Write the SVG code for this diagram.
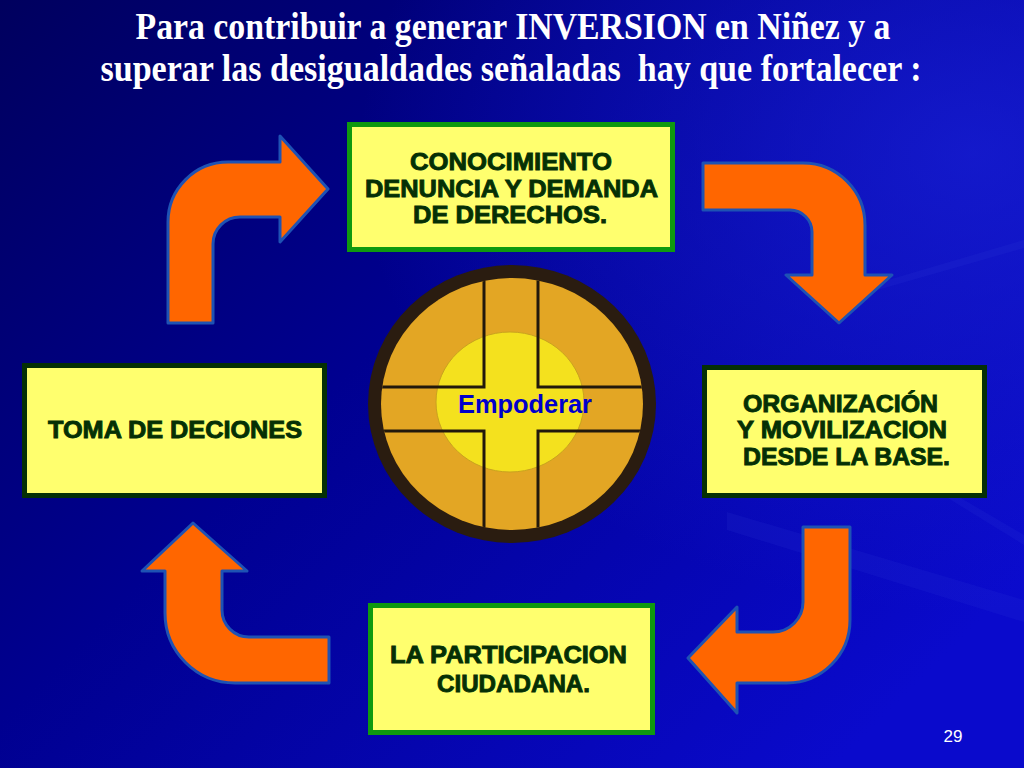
<svg xmlns="http://www.w3.org/2000/svg" width="1024" height="768" viewBox="0 0 1024 768">
<defs>
<linearGradient id="bg" x1="0" y1="0" x2="1" y2="0.75">
<stop offset="0" stop-color="#00005E"/>
<stop offset="0.45" stop-color="#000090"/>
<stop offset="1" stop-color="#0A0ACC"/>
</linearGradient>
<radialGradient id="glow" cx="0.95" cy="0.2" r="0.6">
<stop offset="0" stop-color="#1A22D8" stop-opacity="0.7"/>
<stop offset="1" stop-color="#1A22D8" stop-opacity="0"/>
</radialGradient>
<clipPath id="inner"><ellipse cx="512" cy="404" rx="131" ry="126"/></clipPath>
<style>
.arrow{fill:#FF6600;stroke:#1E52B4;stroke-width:3;stroke-linejoin:round}
.box{fill:#FFFF6E;stroke-width:5}
.bright{stroke:#0F990F}
.dark{stroke:#053005}
.lbl{font-family:"Liberation Sans",Arial,sans-serif;font-weight:bold;font-size:24px;fill:#053005;stroke:#053005;stroke-width:0.9;text-anchor:middle}
.title{font-family:"Liberation Serif","Times New Roman",serif;font-weight:bold;font-size:37px;fill:#FFFFFF;text-anchor:middle}
.streak{fill:#3A4AE0;opacity:0.12}
</style>
</defs>
<rect width="1024" height="768" fill="url(#bg)"/>
<rect width="1024" height="768" fill="url(#glow)"/>
<polygon class="streak" points="727,512 1024,600 1024,622 727,530"/>
<polygon class="streak" points="930,480 1024,535 1024,545 930,487"/>
<polygon class="streak" points="820,300 1024,240 1024,248 825,305"/>

<text class="title" x="513" y="39" textLength="755" lengthAdjust="spacingAndGlyphs">Para contribuir a generar INVERSION en Niñez y a</text>
<text class="title" x="511" y="81" textLength="821" lengthAdjust="spacingAndGlyphs" xml:space="preserve">superar las desigualdades señaladas  hay que fortalecer :</text>

<g id="connectors">
<path id="arrow-toma-conocimiento" class="arrow" d="M168,323 L168,222 A60,60 0 0 1 228,162 L280,162 L280,136 L328,189 L280,242 L280,217 L240,217 A27,27 0 0 0 213,244 L213,323 Z"/>
<path id="arrow-conocimiento-organizacion" class="arrow" d="M703,163 L803,163 A62,62 0 0 1 865,225 L865,275 L892,275 L839,323 L786,275 L812,275 L812,232 A22,22 0 0 0 790,210 L703,210 Z"/>
<path id="arrow-organizacion-participacion" class="arrow" d="M803,527 L850,527 L850,620 A63,63 0 0 1 787,683 L737,683 L737,713 L688,658 L737,607 L737,632 L773,632 A30,30 0 0 0 803,602 Z"/>
<path id="arrow-participacion-toma" class="arrow" d="M193,523 L247,571 L222,571 L222,610 A27,27 0 0 0 249,637 L329,637 L329,683 L235,683 A70,70 0 0 1 165,613 L165,571 L142,571 Z"/>
</g>

<g id="node-conocimiento">
<rect class="box bright" x="349.5" y="124.5" width="323" height="125"/>
<text class="lbl" x="511" y="170" textLength="202" lengthAdjust="spacingAndGlyphs">CONOCIMIENTO</text>
<text class="lbl" x="511.5" y="197" textLength="293" lengthAdjust="spacingAndGlyphs">DENUNCIA Y DEMANDA</text>
<text class="lbl" x="510" y="223" textLength="194" lengthAdjust="spacingAndGlyphs">DE DERECHOS.</text>
</g>

<g id="node-organizacion">
<rect class="box dark" x="704.5" y="367.5" width="280" height="128"/>
<text class="lbl" x="840.5" y="412" textLength="195" lengthAdjust="spacingAndGlyphs">ORGANIZACIÓN</text>
<text class="lbl" x="842" y="438" textLength="210" lengthAdjust="spacingAndGlyphs">Y MOVILIZACION</text>
<text class="lbl" x="846.5" y="465" textLength="207" lengthAdjust="spacingAndGlyphs">DESDE LA BASE.</text>
</g>

<g id="node-participacion">
<rect class="box bright" x="370.5" y="605.5" width="282" height="127"/>
<text class="lbl" x="508.5" y="663" textLength="237" lengthAdjust="spacingAndGlyphs">LA PARTICIPACION</text>
<text class="lbl" x="513.5" y="692" textLength="153" lengthAdjust="spacingAndGlyphs">CIUDADANA.</text>
</g>

<g id="node-toma">
<rect class="box dark" x="24.5" y="365.5" width="300" height="130"/>
<text class="lbl" x="175" y="438" textLength="254" lengthAdjust="spacingAndGlyphs">TOMA DE DECIONES</text>
</g>

<g id="node-empoderar">
<ellipse cx="512" cy="404" rx="144" ry="139" fill="#2A1C10"/>
<ellipse cx="512" cy="404" rx="131" ry="126" fill="#E3A624"/>
<ellipse cx="510" cy="402" rx="74" ry="70" fill="#F4E11E" stroke="#C9A21E" stroke-width="1"/>
<g clip-path="url(#inner)" fill="none" stroke="#22180C" stroke-width="3">
<path d="M484,260 L484,387 L360,387 M538,260 L538,387 L660,387 M360,431 L484,431 L484,550 M660,431 L538,431 L538,550"/>
</g>
<text x="525" y="413" font-family="'Liberation Sans',Arial,sans-serif" font-weight="bold" font-size="25" fill="#0000CC" text-anchor="middle" textLength="134" lengthAdjust="spacingAndGlyphs">Empoderar</text>
</g>

<text x="953" y="742" font-family="'Liberation Sans',Arial,sans-serif" font-size="17" fill="#FFFFFF" text-anchor="middle">29</text>
</svg>
